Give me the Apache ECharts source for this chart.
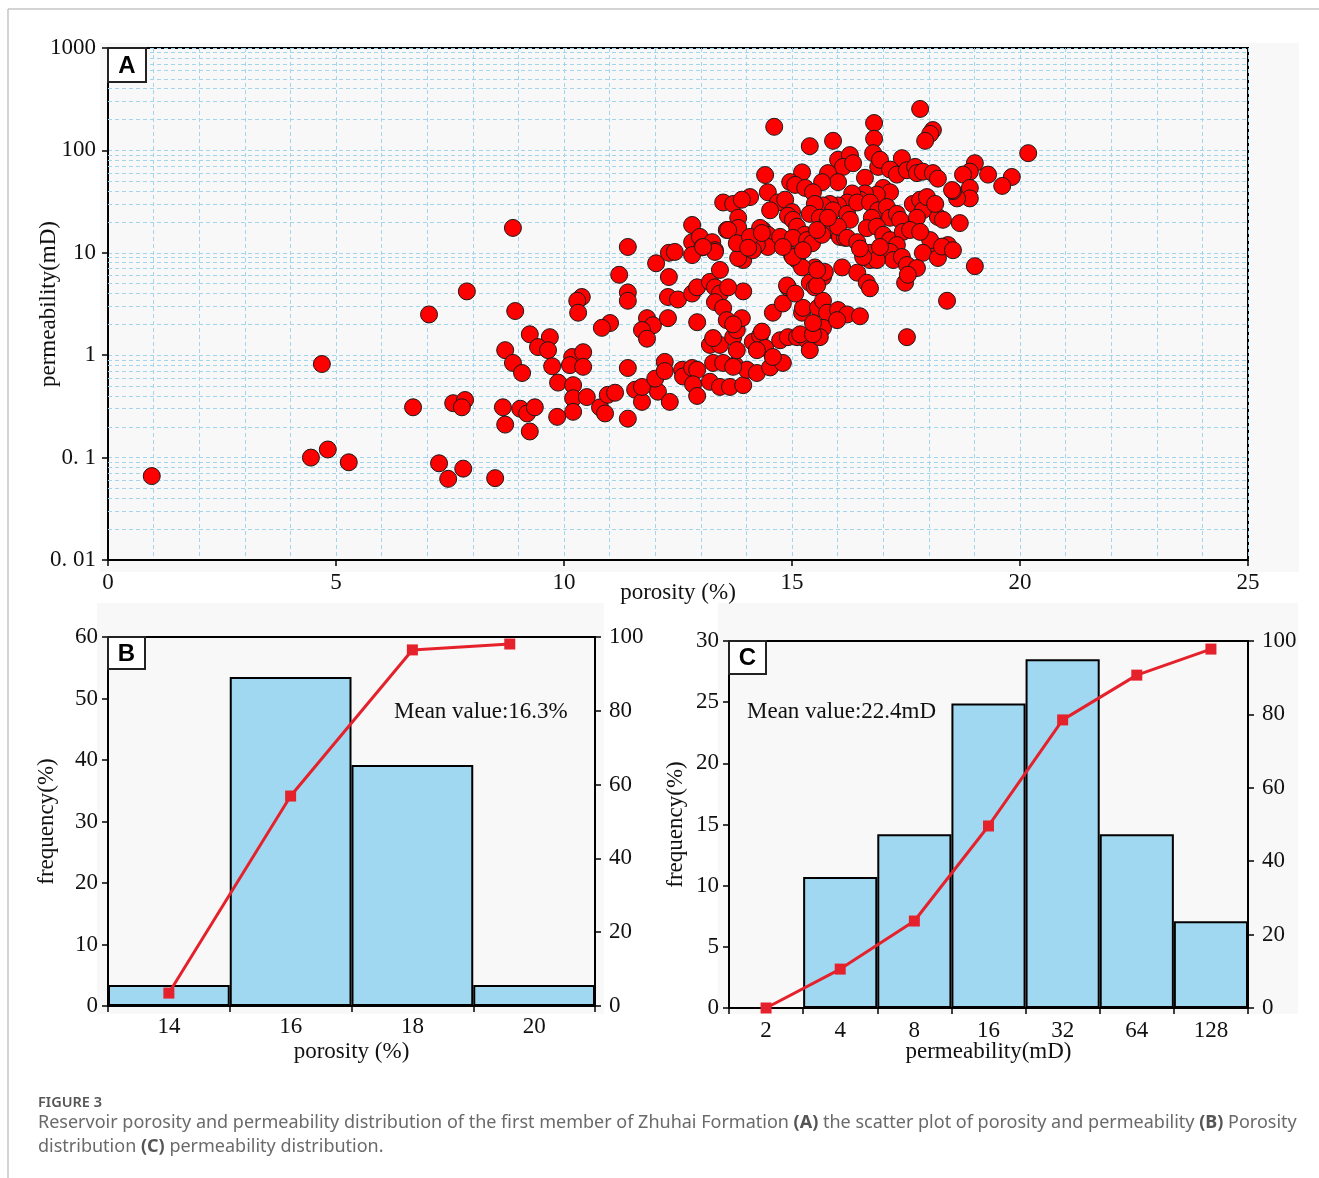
<!DOCTYPE html>
<html>
<head>
<meta charset="utf-8">
<title>Porosity and permeability, Zhuhai Formation</title>
<script src="https://cdn.jsdelivr.net/npm/echarts@6/dist/echarts.min.js"></script>
<style>
  html, body { margin: 0; padding: 0; background: #fff; }
  #chart { width: 1319px; height: 1178px; }
</style>
</head>
<body>
<div id="chart"></div>
<script>
// ---------- Panel A: porosity (%) vs permeability (mD) samples ----------
const scatterPoints = [
  [0.96,0.066],[4.69,0.82],[4.45,0.10],[4.82,0.12],[5.28,0.09],[6.69,0.31],[7.04,2.5],[7.26,0.088],
  [7.46,0.062],[7.79,0.078],[7.57,0.34],[7.83,0.365],[7.76,0.31],[7.87,4.2],[8.49,0.063],[8.88,17.5],
  [8.93,2.7],[8.66,0.31],[8.71,0.21],[9.04,0.30],[9.19,0.27],[9.36,0.31],[9.25,0.18],[9.25,1.6],
  [9.69,1.5],[9.43,1.2],[9.65,1.12],[8.71,1.12],[8.88,0.84],[9.08,0.67],[9.74,0.78],
  [10.18,0.96],[10.42,1.07],[10.13,0.80],[10.42,0.77],[9.87,0.54],[10.20,0.51],[10.20,0.38],[10.50,0.39],
  [10.20,0.28],[9.85,0.25],[10.79,0.31],[10.90,0.27],[10.96,0.41],[11.12,0.43],[11.40,0.24],[11.56,0.46],
  [11.71,0.35],[12.06,0.44],[12.32,0.35],[11.40,0.75],[11.71,0.49],[12.00,0.59],[12.21,0.86],[12.21,0.70],
  [12.59,0.72],[12.61,0.62],[12.81,0.75],[12.92,0.72],[12.83,0.52],[12.92,0.40],[13.20,0.55],[13.42,0.49],
  [13.64,0.49],[13.93,0.51],[13.27,0.84],[13.49,0.84],[13.75,0.80],[14.01,0.72],[14.23,0.67],[14.52,0.76],
  [14.80,0.84],[13.71,0.77],
  [11.40,11.4],[11.21,6.1],[11.40,4.1],[11.40,3.4],[10.39,3.7],[10.29,3.4],[10.31,2.6],[11.01,2.06],
  [10.83,1.85],[11.82,2.3],[11.95,1.96],[11.71,1.76],[11.82,1.45],[12.28,2.3],[12.92,2.1],[12.02,7.9],
  [12.30,10],[12.43,10.2],[12.30,5.8],[12.28,3.7],[12.50,3.5],[12.81,4.0],[12.92,4.6],[13.20,5.2],
  [13.31,4.6],[13.42,4.0],[12.81,18.7],[12.81,12.7],[12.98,14.3],[13.03,11.3],[12.81,9.5],[13.25,12.7],
  [13.31,10.6],[13.49,31],[13.57,16.7],[13.42,6.8],[13.31,3.3],[13.49,2.9],[13.57,2.2],[13.20,1.26],
  [13.42,1.26],[13.71,1.5],[13.79,1.12],[13.79,1.76],[13.90,2.3],[13.93,4.2],[13.60,4.6],[13.71,2.0],
  [14.14,1.35],[14.30,1.56],[14.41,1.18],[14.23,1.12],[14.58,0.96],[14.74,1.4],[14.91,1.5],[15.11,1.5],
  [15.33,1.4],[15.39,1.12],[14.58,2.6],[14.80,3.2],[14.91,4.6],[15.22,2.6],[15.24,2.9],[15.39,5.1],
  [15.50,4.6],[15.68,5.8],[15.57,2.9],[15.68,3.4],[15.77,2.6],[15.68,1.85],[15.61,1.5],[16.01,2.76],
  [16.21,2.5],[16.49,2.4],[15.99,2.2],[13.93,8.5],[13.82,8.9],[13.27,1.47],[14.34,1.7],[15.18,1.6],
  [15.46,1.6],[15.00,9.5],[15.11,8.5],[15.50,7.2],[15.72,6.5],[16.10,7.2],[16.43,6.4],[16.71,8.5],
  [16.56,10],[16.64,5.1],[17.48,5.1],[16.71,4.5],[18.40,3.4],[17.52,1.5],[19.01,7.4],[14.89,4.8],
  [15.55,4.8],[15.22,7.2],[15.02,9.1],[15.46,2.06],[15.07,4.0],
  [14.61,170],[15.39,110],[15.90,124],[16.80,185],[16.80,130],[17.81,254],[18.09,158],[18.03,145],
  [17.92,124],[20.18,94],[19.01,75],[18.90,62],[19.30,58],[18.75,58],[19.82,55],[19.61,45],
  [18.90,43],[18.90,34],[18.62,34],[18.53,40],[18.68,19.5],[18.20,22.4],[17.41,84],[14.41,57.5],
  [14.47,39],[14.69,31],[15.22,61],[14.96,49],[15.07,46],[15.29,43],[16.01,81],[16.27,90],
  [16.12,69],[16.34,75],[15.79,60],[16.01,49],[15.66,49],[16.60,54],[16.78,94],[16.89,69],
  [16.93,81],[17.15,65],[17.30,58],[17.52,64],[17.70,69],[17.74,60],[17.87,62],[18.09,60],
  [18.20,53],[18.51,41],[17.00,43],[17.15,39],[16.86,37],[16.60,38],[16.49,33],[16.32,38],
  [16.21,31],[16.01,29],[15.83,30],[15.68,29],[15.46,39],[15.50,30],[15.39,24],[14.85,33],
  [15.00,25],[14.91,23],[14.52,26],[14.36,16.7],[14.47,15],[15.02,21],[15.11,18],[15.35,14],
  [15.28,15],[15.61,22],[15.77,19.5],[15.88,16.7],[16.05,14.3],[16.16,14],[15.90,26],[16.21,24],
  [16.27,21],[16.43,31],[16.71,31],[16.89,26],[17.08,28],[17.15,22],[17.30,24],[16.75,22],
  [16.64,17.4],[16.86,18],[17.00,15],[17.15,13.3],[17.37,21],[17.65,30],[17.81,33],[17.87,26],
  [17.74,22],[17.43,16],[17.59,16.7],[17.96,35],[18.14,30],[18.31,21],[18.42,11.9],[18.18,10.6],
  [18.03,13.3],[17.87,10],[17.81,16],[17.30,11.9],[17.15,10.2],[17.22,8.5],[17.41,9.1],[17.52,7.6],
  [17.74,7.1],[17.54,6.1],[18.20,8.9],[18.29,11.5],[18.53,10.6],[16.71,10],[16.86,8.5],[16.93,11.4],
  [16.56,9.1],[15.55,6.8],[14.08,35],[14.30,17.5],[14.47,11.4],[14.23,12],[14.14,10.6],[14.74,14.3],
  [15.02,14],[15.33,13.3],[14.80,11.4],[15.44,12.4],[15.24,10.6],[15.66,15],[16.01,18],[16.21,14],
  [16.43,12.7],[16.49,11],[15.79,22],[15.55,16.7],[13.71,30],[13.90,33],[13.82,22],[13.82,17.5],
  [13.60,16.7],[13.79,12.4],[13.31,10.2],[13.05,11.4],[14.08,14.3],[14.04,11.2],[14.34,15.6]
];

// log-grid helper values (2..9 within each decade)
const permMinorGrid = [];
[0.01, 0.1, 1, 10, 100].forEach(function (d) {
  for (let m = 2; m <= 9; m++) permMinorGrid.push(+(d * m).toPrecision(3));
});

// ---------- Panel B: porosity distribution ----------
const porosityBins = ['14', '16', '18', '20'];
const porosityFreq = [3.4, 53.5, 39.2, 3.4];
const porosityCumX = [14, 16, 18, 19.6];
const porosityCum = [3.5, 56.9, 96.5, 98.1];

// ---------- Panel C: permeability distribution ----------
const permBins = ['2', '4', '8', '16', '32', '64', '128'];
const permFreq = [0, 10.7, 14.2, 24.9, 28.5, 14.2, 7.1];
const permCum = [0, 10.6, 23.7, 49.6, 78.5, 90.7, 97.8];

const SERIF = '"Liberation Serif", "Times New Roman", serif';
const SANS = '"Liberation Sans", Arial, sans-serif';
const CAPTION = '"Noto Sans", sans-serif';
const GRID_BLUE = '#a3d6ec';
const BAR_BLUE = '#a0d8f1';
const LINE_RED = '#e5222b';
const tickText = { color: '#111', fontFamily: SERIF, fontSize: 23 };
const nameText = { color: '#111', fontFamily: SERIF, fontSize: 23 };
const blackLine = { show: true, lineStyle: { color: '#000', width: 2 } };
const outTick = { show: true, inside: false, length: 6, lineStyle: { color: '#000', width: 1.5 } };
const dashed = { color: GRID_BLUE, type: [4, 3], width: 1 };

function logLabel(v) {
  const e = Math.round(Math.log10(v));
  if (e === -2) return '0. 01';
  if (e === -1) return '0. 1';
  return String(Math.round(Math.pow(10, e)));
}

function tagBox(letter, x, y, w, h) {
  return [
    { type: 'rect', z: 50, shape: { x: x, y: y, width: w, height: h },
      style: { fill: '#fff', stroke: '#222', lineWidth: 2 } },
    { type: 'text', z: 51, x: x + w / 2, y: y + h / 2 + 1,
      style: { text: letter, font: 'bold 24px ' + SANS, fill: '#000', align: 'center', verticalAlign: 'middle' } }
  ];
}

const chart = echarts.init(document.getElementById('chart'), null, { renderer: 'canvas' });

const option = {
  animation: false,
  backgroundColor: '#fff',
  grid: [
    { left: 108, top: 48, width: 1140, height: 512, show: true, borderColor: '#000', borderWidth: 2, backgroundColor: 'transparent' },
    { left: 108, top: 637, width: 487, height: 369, show: true, borderColor: '#000', borderWidth: 2, backgroundColor: 'transparent' },
    { left: 729, top: 641, width: 519, height: 367, show: true, borderColor: '#000', borderWidth: 2, backgroundColor: 'transparent' }
  ],
  xAxis: [
    { type: 'value', gridIndex: 0, min: 0, max: 25, interval: 5,
      axisLine: blackLine, axisTick: outTick,
      axisLabel: Object.assign({ margin: 11 }, tickText),
      splitLine: { show: true, lineStyle: dashed },
      minorTick: { show: false, splitNumber: 5 },
      minorSplitLine: { show: true, lineStyle: dashed },
      name: 'porosity (%)', nameLocation: 'middle', nameGap: 21, nameMoveOverlap: false, nameTextStyle: nameText },
    { type: 'category', gridIndex: 1, data: porosityBins,
      axisLine: blackLine, axisTick: outTick,
      axisLabel: Object.assign({ margin: 9 }, tickText),
      splitLine: { show: false },
      name: 'porosity (%)', nameLocation: 'middle', nameGap: 34, nameMoveOverlap: false, nameTextStyle: nameText },
    { type: 'value', gridIndex: 1, min: 13, max: 21, show: false },
    { type: 'category', gridIndex: 2, data: permBins,
      axisLine: blackLine, axisTick: outTick,
      axisLabel: Object.assign({ margin: 11 }, tickText),
      splitLine: { show: false },
      name: 'permeability(mD)', nameLocation: 'middle', nameGap: 32, nameMoveOverlap: false, nameTextStyle: nameText }
  ],
  yAxis: [
    { type: 'log', logBase: 10, gridIndex: 0, min: 0.01, max: 1000,
      axisLine: blackLine, axisTick: outTick,
      axisLabel: Object.assign({ margin: 12, formatter: logLabel, showMinLabel: true, showMaxLabel: true }, tickText),
      splitLine: { show: true, lineStyle: dashed },
      name: 'permeability(mD)', nameLocation: 'middle', nameGap: 48, nameMoveOverlap: false, nameTextStyle: nameText },
    { type: 'value', gridIndex: 1, min: 0, max: 60, interval: 10, position: 'left',
      axisLine: blackLine, axisTick: outTick,
      axisLabel: Object.assign({ margin: 10 }, tickText),
      splitLine: { show: false },
      name: 'frequency(%)', nameLocation: 'middle', nameGap: 50, nameMoveOverlap: false, nameTextStyle: nameText },
    { type: 'value', gridIndex: 1, min: 0, max: 100, interval: 20, position: 'right',
      axisLine: blackLine, axisTick: outTick,
      axisLabel: Object.assign({ margin: 14 }, tickText),
      splitLine: { show: false } },
    { type: 'value', gridIndex: 2, min: 0, max: 30, interval: 5, position: 'left',
      axisLine: blackLine, axisTick: outTick,
      axisLabel: Object.assign({ margin: 10 }, tickText),
      splitLine: { show: false },
      name: 'frequency(%)', nameLocation: 'middle', nameGap: 42, nameMoveOverlap: false, nameTextStyle: nameText },
    { type: 'value', gridIndex: 2, min: 0, max: 100, interval: 20, position: 'right',
      axisLine: blackLine, axisTick: outTick,
      axisLabel: Object.assign({ margin: 14 }, tickText),
      splitLine: { show: false } }
  ],
  series: [
    // log minor grid of panel A, kept beneath the samples
    { type: 'line', xAxisIndex: 0, yAxisIndex: 0, data: [], silent: true, z: 1,
      markLine: { silent: true, z: 1, symbol: ['none', 'none'], label: { show: false },
        lineStyle: dashed, emphasis: { disabled: true },
        data: permMinorGrid.map(function (v) { return { yAxis: v }; }) } },
    { type: 'scatter', name: 'samples', xAxisIndex: 0, yAxisIndex: 0, data: scatterPoints, z: 6,
      symbol: 'circle', symbolSize: 17,
      itemStyle: { color: '#ff0000', borderColor: '#1a1a1a', borderWidth: 1, opacity: 1 } },
    { type: 'bar', xAxisIndex: 1, yAxisIndex: 1, data: porosityFreq, barCategoryGap: '0%', z: 2,
      itemStyle: { color: BAR_BLUE, borderColor: '#000', borderWidth: 2 } },
    { type: 'line', xAxisIndex: 2, yAxisIndex: 2, z: 4,
      data: porosityCumX.map(function (x, i) { return [x, porosityCum[i]]; }),
      symbol: 'rect', symbolSize: 11, showAllSymbol: true,
      lineStyle: { color: LINE_RED, width: 3 }, itemStyle: { color: LINE_RED } },
    { type: 'bar', xAxisIndex: 3, yAxisIndex: 3, data: permFreq, barCategoryGap: '0%', z: 2,
      itemStyle: { color: BAR_BLUE, borderColor: '#000', borderWidth: 2 } },
    { type: 'line', xAxisIndex: 3, yAxisIndex: 4, data: permCum, z: 4,
      symbol: 'rect', symbolSize: 11, showAllSymbol: true,
      lineStyle: { color: LINE_RED, width: 3 }, itemStyle: { color: LINE_RED } }
  ],
  graphic: [].concat(
    [
      // panel backgrounds
      { type: 'rect', z: -10, shape: { x: 100, y: 43, width: 1199, height: 529 }, style: { fill: '#f8f8f8' } },
      { type: 'rect', z: -10, shape: { x: 97, y: 603, width: 507, height: 411 }, style: { fill: '#f8f8f8' } },
      { type: 'rect', z: -10, shape: { x: 718, y: 603, width: 580, height: 411 }, style: { fill: '#f8f8f8' } },
      // page rules
      { type: 'line', z: 60, shape: { x1: 8, y1: 9, x2: 1319, y2: 9 }, style: { stroke: '#c4c4c4', lineWidth: 1.5 } },
      { type: 'line', z: 60, shape: { x1: 8, y1: 9, x2: 8, y2: 1178 }, style: { stroke: '#c4c4c4', lineWidth: 1.5 } },
      // mean values
      { type: 'text', z: 40, x: 394, y: 712,
        style: { text: 'Mean value:16.3%', font: '23px ' + SERIF, fill: '#111', verticalAlign: 'middle' } },
      { type: 'text', z: 40, x: 747, y: 712,
        style: { text: 'Mean value:22.4mD', font: '23px ' + SERIF, fill: '#111', verticalAlign: 'middle' } },
      // caption
      { type: 'text', z: 40, x: 38, y: 1103,
        style: { text: 'FIGURE 3', font: '600 14.5px ' + CAPTION, fill: '#555', verticalAlign: 'middle' } },
      { type: 'text', z: 40, x: 38, y: 1123,
        style: {
          text: 'Reservoir porosity and permeability distribution of the first member of Zhuhai Formation {b|(A)} the scatter plot of porosity and permeability {b|(B)} Porosity',
          font: '18px ' + CAPTION, fill: '#6a6a6a', verticalAlign: 'middle',
          rich: { b: { fontWeight: 'bold', fontSize: 18, fontFamily: CAPTION, fill: '#555' } }
        } },
      { type: 'text', z: 40, x: 38, y: 1147,
        style: {
          text: 'distribution {b|(C)} permeability distribution.',
          font: '18px ' + CAPTION, fill: '#6a6a6a', verticalAlign: 'middle',
          rich: { b: { fontWeight: 'bold', fontSize: 18, fontFamily: CAPTION, fill: '#555' } }
        } }
    ],
    tagBox('A', 108, 48, 38, 34),
    tagBox('B', 108, 637, 37, 32),
    tagBox('C', 729, 641, 37, 33)
  )
};

chart.setOption(option);
</script>
</body>
</html>
